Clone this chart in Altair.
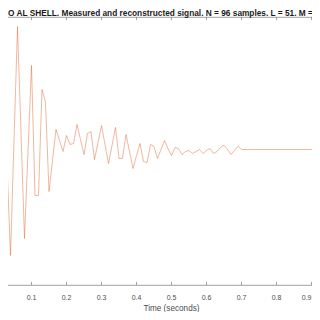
import altair as alt
import pandas as pd

# sample times (s) and signal amplitude
time_s = [round(k * 0.01, 2) for k in range(96)]
signal = [
    -0.735, -0.110, 0.551, -0.110, -0.779, 0.066, 0.904, 0.125, -0.654, -0.015,
    0.618, -0.338, -0.338, 0.441, 0.346, -0.309, -0.081, 0.147, 0.066, -0.015,
    0.103, 0.037, 0.044, 0.184, 0.074, -0.037, 0.118, 0.132, -0.074, 0.051,
    0.176, 0.037, -0.103, 0.029, 0.162, -0.066, -0.066, 0.110, -0.015, -0.140,
    -0.044, 0.044, -0.088, -0.096, 0.037, 0.022, -0.066, 0.0, 0.066, 0.007,
    -0.044, 0.015, 0.007, -0.037, -0.015, -0.007, -0.029, -0.015, 0.0, -0.029,
    -0.007, 0.007, -0.029, -0.015, 0.015, 0.032, 0.0, -0.037, -0.007, 0.024,
    0.0,
] + [0.0] * 25
tick_values = [0, 0.1, 0.2, 0.3, 0.4, 0.5, 0.6, 0.7, 0.8, 0.9, 1.0]
label_values = [0.1, 0.2, 0.3, 0.4, 0.5, 0.6, 0.7, 0.8]
label_texts = ["0.1", "0.2", "0.3", "0.4", "0.5", "0.6", "0.7", "0.8"]
edge_label_values = [0.9]
edge_label_texts = ["0.9"]
x_title = "Time (seconds)"
title_text = "O AL SHELL. Measured and reconstructed signal. N = 96 samples. L = 51. M ="

df = pd.DataFrame({"t": time_s, "v": signal})
ticks_df = pd.DataFrame({"t": tick_values})
labels_df = pd.DataFrame({"t": label_values, "s": label_texts})
edge_df = pd.DataFrame({"t": edge_label_values, "s": edge_label_texts})
xtitle_df = pd.DataFrame({"t": [0.5], "s": [x_title]})

W, H = 350, 268
xscale = alt.Scale(domain=[0, 1], nice=False)
yscale = alt.Scale(domain=[-0.996, 0.974], nice=False)
GRAY = "#4d4d4d"
FONT = "Liberation Sans"

line = alt.Chart(df).mark_line(color="#D95319", strokeWidth=0.7, opacity=0.6).encode(
    x=alt.X("t:Q", scale=xscale, axis=None),
    y=alt.Y("v:Q", scale=yscale, axis=None),
)

bottom_ticks = alt.Chart(ticks_df).mark_rule(color="#8a8a8a", strokeWidth=0.8).encode(
    x=alt.X("t:Q", scale=xscale, axis=None), y=alt.value(H), y2=alt.value(H - 3)
)
top_ticks = alt.Chart(ticks_df).mark_rule(color="#8a8a8a", strokeWidth=0.8).encode(
    x=alt.X("t:Q", scale=xscale, axis=None), y=alt.value(0), y2=alt.value(3)
)

labels = alt.Chart(labels_df).mark_text(
    font=FONT, fontSize=7, color=GRAY, align="center", baseline="alphabetic"
).encode(x=alt.X("t:Q", scale=xscale, axis=None), y=alt.value(H + 14.5), text="s:N")

edge_labels = alt.Chart(edge_df).mark_text(
    font=FONT, fontSize=7, color=GRAY, align="right", baseline="alphabetic", dx=0
).encode(x=alt.X("t:Q", scale=xscale, axis=None), y=alt.value(H + 14.5), text="s:N")

xtitle = alt.Chart(xtitle_df).mark_text(
    font=FONT, fontSize=8.2, color=GRAY, align="center", baseline="alphabetic"
).encode(x=alt.X("t:Q", scale=xscale, axis=None), y=alt.value(H + 25.5), text="s:N")

chart = alt.layer(line, bottom_ticks, top_ticks, labels, edge_labels, xtitle).properties(
    width=W, height=H,
    title=alt.TitleParams(title_text, anchor="start", frame="group", fontSize=8.3,
                          fontWeight="bold", font=FONT, color="#1a1a1a",
                          baseline="alphabetic", offset=2.5, dx=11.5, dy=10),
    autosize=alt.AutoSizeParams(type="none"),
    padding={"left": -11.5, "top": 9, "right": -34.5, "bottom": 27},
).configure_view(stroke="#8a8a8a", strokeWidth=0.8)

chart.save("out.html", embed_options={"renderer": "svg", "actions": False})
